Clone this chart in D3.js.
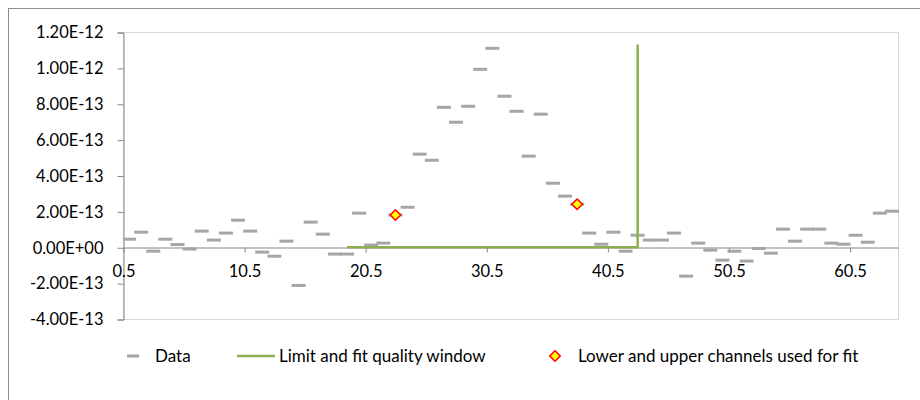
<!DOCTYPE html>
<html>
<head>
<meta charset="utf-8">
<script src="https://cdn.jsdelivr.net/npm/d3@7"></script>
<style>
  html, body { margin: 0; padding: 0; background: #fff; }
  svg { display: block; }
  text { font-family: Lato, "Open Sans", sans-serif; fill: #000; }
</style>
</head>
<body>
<svg id="chart" width="920" height="400"></svg>
<script>
// ---- data ----
const channels = [1,2,3,4,5,6,7,8,9,10,11,12,13,14,15,16,17,18,19,20,21,22,23,24,25,26,27,28,29,30,31,32,
                  33,34,35,36,37,38,39,40,41,42,43,44,45,46,47,48,49,50,51,52,53,54,55,56,57,58,59,60,61,62,63,64];
const dataValues = [0.45e-13,0.84e-13,-0.22e-13,0.45e-13,0.15e-13,-0.10e-13,0.90e-13,0.40e-13,0.79e-13,1.51e-13,
                    0.90e-13,-0.27e-13,-0.50e-13,0.34e-13,-2.13e-13,1.40e-13,0.73e-13,-0.38e-13,-0.38e-13,1.90e-13,
                    0.12e-13,0.23e-13,1.80e-13,2.23e-13,5.19e-13,4.85e-13,7.80e-13,6.97e-13,7.86e-13,9.92e-13,
                    11.09e-13,8.42e-13,7.58e-13,5.08e-13,7.42e-13,3.57e-13,2.85e-13,2.40e-13,0.79e-13,0.17e-13,
                    0.84e-13,-0.22e-13,0.67e-13,0.40e-13,0.40e-13,0.79e-13,-1.61e-13,0.23e-13,-0.16e-13,-0.72e-13,
                    -0.22e-13,-0.77e-13,-0.07e-13,-0.33e-13,1.01e-13,0.34e-13,1.01e-13,1.01e-13,0.23e-13,0.17e-13,
                    0.67e-13,0.28e-13,1.90e-13,2.01e-13];
const windowX = [19, 43, 43];
const windowY = [0, 0, 1.13e-12];
const fitX = [23, 38];
const fitY = [1.80e-13, 2.40e-13];
const xTicks = [0.5, 10.5, 20.5, 30.5, 40.5, 50.5, 60.5];
const xTickLabels = ["0.5", "10.5", "20.5", "30.5", "40.5", "50.5", "60.5"];
const yTicks = [-4e-13, -2e-13, 0, 2e-13, 4e-13, 6e-13, 8e-13, 1e-12, 1.2e-12];
const yTickLabels = ["-4.00E-13", "-2.00E-13", "0.00E+00", "2.00E-13", "4.00E-13", "6.00E-13", "8.00E-13", "1.00E-12", "1.20E-12"];
const seriesNames = ["Data", "Limit and fit quality window", "Lower and upper channels used for fit"];

// ---- layout ----
const svg = d3.select("#chart");
const L = 123, R = 898, T = 32, B = 319;
const x = d3.scaleLinear().domain([0.5, 64.5]).range([L, R]);
const y = d3.scaleLinear().domain([-4e-13, 1.2e-12]).range([B, T]);

const axisColor = "#868686";
const dataColor = "#a6a6a6";
const green = "#8db04f";
const fontSize = 16.5;

// outer chart border
svg.append("rect").attr("x", 8.5).attr("y", 8.5).attr("width", 930).attr("height", 420)
  .attr("fill", "none").attr("stroke", "#8c8c8c").attr("stroke-width", 1);

// plot area border
svg.append("rect").attr("x", L + 0.5).attr("y", T + 0.5).attr("width", R - L).attr("height", B - T)
  .attr("fill", "none").attr("stroke", "#d9d9d9").attr("stroke-width", 1);

// y axis
const yAxis = d3.axisLeft(y).tickValues(yTicks).tickSize(6).tickPadding(14)
  .tickFormat((d, i) => yTickLabels[i]);
const gy = svg.append("g").attr("transform", `translate(${L + 0.5},0.5)`).call(yAxis);
gy.select(".domain").attr("stroke", axisColor);
gy.selectAll(".tick line").attr("stroke", axisColor);
gy.selectAll(".tick text").attr("font-size", fontSize).attr("font-family", "Lato, sans-serif").attr("fill", "#000");

// x axis at zero
const xAxis = d3.axisBottom(x).tickValues(xTicks).tickSize(5).tickSizeOuter(0).tickPadding(13)
  .tickFormat((d, i) => xTickLabels[i]);
const gx = svg.append("g").attr("transform", `translate(0.5,${Math.round(y(0)) + 0.5})`).call(xAxis);
gx.select(".domain").attr("stroke", axisColor);
gx.selectAll(".tick line").attr("stroke", axisColor);
gx.selectAll(".tick text").attr("font-size", fontSize).attr("font-family", "Lato, sans-serif").attr("fill", "#000");

// clip to plot area
svg.append("clipPath").attr("id", "plotclip").append("rect")
  .attr("x", L).attr("y", T).attr("width", R - L + 1).attr("height", B - T);

// data dashes
const dashW = 14, dashH = 3;
svg.append("g").attr("clip-path", "url(#plotclip)")
  .selectAll("rect").data(channels).join("rect")
  .attr("x", (d) => x(d) - dashW / 2)
  .attr("y", (d, i) => y(dataValues[i]) - dashH / 2)
  .attr("width", dashW).attr("height", dashH)
  .attr("fill", dataColor);

// window line
const line = d3.line().x((d) => x(d[0])).y((d) => y(d[1]));
svg.append("path").datum(windowX.map((v, i) => [v, windowY[i]]))
  .attr("d", line).attr("fill", "none").attr("stroke", green).attr("stroke-width", 2.5);

// fit diamonds
const diamond = d3.symbol().type(d3.symbolDiamond2).size(70);
svg.append("g").selectAll("path").data(fitX).join("path")
  .attr("d", diamond)
  .attr("transform", (d, i) => `translate(${x(d)},${y(fitY[i])})`)
  .attr("fill", "#ffff00").attr("stroke", "#ff0000").attr("stroke-width", 1.5);

// legend
const ly = 356;
const lfs = 17;
const lg = svg.append("g");
lg.append("rect").attr("x", 127).attr("y", ly - 1.5).attr("width", 12).attr("height", 3).attr("fill", dataColor);
lg.append("text").attr("x", 155).attr("y", ly + 6).attr("font-size", lfs).text(seriesNames[0]);
lg.append("line").attr("x1", 237).attr("x2", 275).attr("y1", ly).attr("y2", ly)
  .attr("stroke", green).attr("stroke-width", 2.5);
lg.append("text").attr("x", 279).attr("y", ly + 6).attr("font-size", lfs).text(seriesNames[1]);
lg.append("path").attr("d", diamond).attr("transform", `translate(555,${ly})`)
  .attr("fill", "#ffff00").attr("stroke", "#ff0000").attr("stroke-width", 1.5);
lg.append("text").attr("x", 578).attr("y", ly + 6).attr("font-size", lfs).text(seriesNames[2]);
</script>
</body>
</html>
